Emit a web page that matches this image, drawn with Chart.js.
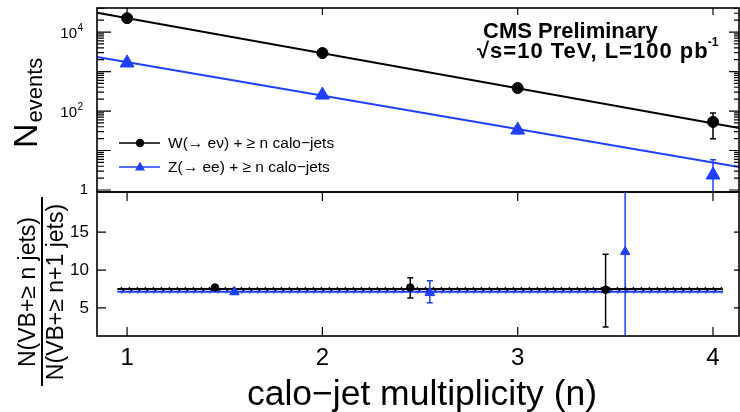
<!DOCTYPE html>
<html><head><meta charset="utf-8">
<script src="https://cdn.jsdelivr.net/npm/chart.js@4/dist/chart.umd.min.js"></script>
<style>html,body{margin:0;padding:0;background:#fff;}#wrap{position:relative;width:740px;height:412px;}canvas{position:absolute;left:0;top:0;}</style>
</head><body><div id="wrap"><canvas id="top" width="740" height="412"></canvas><canvas id="bot" width="740" height="412"></canvas></div>
<script>
// ---------- data ----------
const nJets = [1, 2, 3, 4];
const wEvents = [22500, 2950, 383, 53];
const wErrUp = [150, 55, 20, 36];
const wErrDown = [150, 55, 20, 33];
const zEvents = [1650, 254, 33, 2.4];
const zErrUp = [40, 16, 6, 3.4];
const zErrDown = [40, 16, 6, 2.4];
const fitRange = [0.846, 4.133];
const wFit = [30900, 37];
const zFit = [2340, 3.8];
const wRatioX = [1.45, 2.45, 3.45];
const wRatio = [7.7, 7.7, 7.4];
const wRatioErrUp = [0.25, 1.3, 4.7];
const wRatioErrDown = [0.25, 1.4, 4.9];
const zRatioX = [1.55, 2.55, 3.55];
const zRatio = [7.1, 7.0, 12.4];
const zRatioErrUp = [0.3, 1.6, 20];
const zRatioErrDown = [0.3, 1.3, 20];
const ratioFitRange = [0.95, 4.05];
const wRatioFit = [7.5, 7.5];
const wRatioFitErr = [0.3, 0.3];
const zRatioFit = [7.15, 7.15];
const zRatioFitErr = [0.25, 0.25];
const xTicks = [1, 2, 3, 4];
const topYTicks = [1, 100, 10000];
const topYTickExp = ['', '2', '4'];
const botYTicks = [5, 10, 15];
const legendLabels = ['W(\u2192 e\u03bd) + \u2265 n calo\u2212jets', 'Z(\u2192 ee) + \u2265 n calo\u2212jets'];
const titleLine1 = 'CMS Preliminary';
const titleLine2 = '\u221as=10 TeV, L=100 pb';
const titleLine2Sup = '-1';
const xTitle = 'calo\u2212jet multiplicity (n)';
const yTitleTop = ['N', 'events'];
const yTitleBot = ['N(VB+\u2265 n jets)', 'N(VB+\u2265 n+1 jets)'];

// ---------- style ----------
const BLUE = '#1f3fff';
const FONT = "'Liberation Sans', Arial, Helvetica, sans-serif";
Chart.defaults.font.family = FONT;
Chart.defaults.color = '#000';

function drawErrors(chart, di, vals, up, down, color, isLog) {
  const meta = chart.getDatasetMeta(di), ys = chart.scales.y, ca = chart.chartArea, ctx = chart.ctx;
  ctx.save();
  ctx.beginPath(); ctx.rect(ca.left, ca.top, ca.right - ca.left, ca.bottom - ca.top); ctx.clip();
  ctx.strokeStyle = color; ctx.lineWidth = 1.5;
  meta.data.forEach((pt, i) => {
    const hi = vals[i] + up[i], lo = vals[i] - down[i];
    const yHi = ys.getPixelForValue(hi);
    const yLo = (isLog && lo <= 0) ? ca.bottom + 10 : ys.getPixelForValue(lo);
    const x = pt.x;
    ctx.beginPath();
    ctx.moveTo(x, yHi); ctx.lineTo(x, yLo);
    ctx.moveTo(x - 3, yHi); ctx.lineTo(x + 3, yHi);
    ctx.moveTo(x - 3, yLo); ctx.lineTo(x + 3, yLo);
    ctx.stroke();
  });
  ctx.restore();
}
function frame(chart) {
  const ca = chart.chartArea, ctx = chart.ctx;
  ctx.save(); ctx.strokeStyle = '#000'; ctx.lineWidth = 1.6;
  ctx.strokeRect(ca.left, ca.top, ca.right - ca.left, ca.bottom - ca.top);
  ctx.restore();
}
function tick(ctx, x1, y1, x2, y2) { ctx.moveTo(x1, y1); ctx.lineTo(x2, y2); }

const topPlugin = {
  id: 'topDeco',
  beforeDatasetsDraw(chart) {
    drawErrors(chart, 2, wEvents, wErrUp, wErrDown, '#000', true);
    drawErrors(chart, 3, zEvents, zErrUp, zErrDown, BLUE, true);
  },
  afterDraw(chart) {
    const ctx = chart.ctx, ca = chart.chartArea, xs = chart.scales.x, ys = chart.scales.y;
    frame(chart);
    ctx.save(); ctx.strokeStyle = '#000'; ctx.lineWidth = 1.2; ctx.beginPath();
    for (let d = -1; d <= 5; d++) {
      for (let k = 1; k <= 9; k++) {
        const v = k * Math.pow(10, d);
        if (v < ys.min || v > ys.max) continue;
        const y = ys.getPixelForValue(v);
        const major = k === 1;
        tick(ctx, ca.left, y, ca.left + (major ? 14 : 7), y);
        tick(ctx, ca.right, y, ca.right - (major ? 10 : 5), y);
      }
    }
    xTicks.forEach(v => { const x = xs.getPixelForValue(v); tick(ctx, x, ca.top, x, ca.top + 7); });
    ctx.stroke(); ctx.restore();
    // y tick labels
    ctx.save(); ctx.fillStyle = '#000'; ctx.textBaseline = 'middle';
    topYTicks.forEach((v, i) => {
      const y = ys.getPixelForValue(v);
      if (!topYTickExp[i]) {
        ctx.font = '15px ' + FONT; ctx.textAlign = 'right'; ctx.fillText('1', 88, y);
      } else {
        ctx.font = '15px ' + FONT; ctx.textAlign = 'right'; ctx.fillText('10', 77, y + 2);
        ctx.font = '10px ' + FONT; ctx.textAlign = 'left'; ctx.fillText(topYTickExp[i], 77.5, y - 4);
      }
    });
    ctx.restore();
    // legend
    ctx.save();
    const rows = [143, 167];
    ctx.lineWidth = 1.5;
    [['#000', 'circle'], [BLUE, 'triangle']].forEach((s, i) => {
      const y = rows[i];
      ctx.strokeStyle = s[0]; ctx.fillStyle = s[0];
      ctx.beginPath(); ctx.moveTo(119, y); ctx.lineTo(160, y); ctx.stroke();
      ctx.beginPath();
      if (s[1] === 'circle') { ctx.arc(140, y, 4.2, 0, Math.PI * 2); }
      else { ctx.moveTo(140, y - 5.5); ctx.lineTo(145, y + 3.5); ctx.lineTo(135, y + 3.5); ctx.closePath(); }
      ctx.fill();
      ctx.fillStyle = '#000'; ctx.font = '15.5px ' + FONT; ctx.textAlign = 'left'; ctx.textBaseline = 'middle';
      ctx.fillText(legendLabels[i], 168, y + 1);
    });
    ctx.restore();
    // title
    ctx.save(); ctx.fillStyle = '#000'; ctx.textAlign = 'left'; ctx.textBaseline = 'alphabetic';
    ctx.font = 'bold 22px ' + FONT; ctx.fillText(titleLine1, 483, 38);
    ctx.letterSpacing = '1px';
    ctx.fillText(titleLine2, 477, 58);
    const w2 = ctx.measureText(titleLine2).width;
    ctx.letterSpacing = '0px';
    ctx.font = 'bold 12px ' + FONT; ctx.fillText(titleLine2Sup, 477 + w2 - 1, 46);
    ctx.restore();
    // y title
    ctx.save(); ctx.fillStyle = '#000'; ctx.translate(37, 148); ctx.rotate(-Math.PI / 2);
    ctx.textAlign = 'left'; ctx.textBaseline = 'alphabetic';
    ctx.font = '34px ' + FONT; ctx.fillText(yTitleTop[0], 0, 0);
    const nw = ctx.measureText(yTitleTop[0]).width;
    ctx.font = '22px ' + FONT; ctx.fillText(yTitleTop[1], nw + 1, 5);
    ctx.restore();
  }
};

function hatch(color) {
  const c = document.createElement('canvas'); c.width = 8; c.height = 6;
  const g = c.getContext('2d'); g.strokeStyle = color; g.lineWidth = 1.2;
  g.beginPath(); g.moveTo(1, 6); g.lineTo(5, 0); g.stroke();
  return g.createPattern(c, 'repeat');
}

const topChart = new Chart(document.getElementById('top'), {
  type: 'scatter',
  data: { datasets: [
    { label: 'W fit', type: 'line', data: fitRange.map((x, i) => ({ x, y: wFit[i] })), borderColor: '#000', borderWidth: 2, pointRadius: 0, order: 5 },
    { label: 'Z fit', type: 'line', data: fitRange.map((x, i) => ({ x, y: zFit[i] })), borderColor: BLUE, borderWidth: 2, pointRadius: 0, order: 6 },
    { label: 'W', data: nJets.map((x, i) => ({ x, y: wEvents[i] })), pointStyle: 'circle', pointRadius: 5.5, borderWidth: 1, backgroundColor: '#000', borderColor: '#000', order: 1 },
    { label: 'Z', data: nJets.map((x, i) => ({ x, y: zEvents[i] })), pointStyle: 'triangle', pointRadius: 8, borderWidth: 1, backgroundColor: BLUE, borderColor: BLUE, order: 2 }
  ] },
  options: {
    responsive: false, animation: false, devicePixelRatio: 1,
    layout: { autoPadding: false, padding: { left: 0, right: 1, top: 8, bottom: 220 } },
    plugins: { legend: { display: false }, tooltip: { enabled: false } },
    scales: {
      x: { type: 'linear', min: 0.846, max: 4.133, display: false },
      y: { type: 'logarithmic', min: 0.89, max: 40700, grid: { display: false, drawTicks: false }, border: { display: false },
           ticks: { display: false }, afterFit: s => { s.width = 97; } }
    }
  },
  plugins: [topPlugin]
});

const botPlugin = {
  id: 'botDeco',
  beforeDatasetsDraw(chart) {
    drawErrors(chart, 4, wRatio, wRatioErrUp, wRatioErrDown, '#000', false);
    drawErrors(chart, 5, zRatio, zRatioErrUp, zRatioErrDown, BLUE, false);
  },
  afterDraw(chart) {
    const ctx = chart.ctx, ca = chart.chartArea, xs = chart.scales.x, ys = chart.scales.y;
    frame(chart);
    ctx.save(); ctx.strokeStyle = '#000'; ctx.lineWidth = 1.2; ctx.beginPath();
    xTicks.forEach(v => { const x = xs.getPixelForValue(v); tick(ctx, x, ca.top, x, ca.top + 9); tick(ctx, x, ca.bottom, x, ca.bottom - 9); });
    botYTicks.forEach(v => { const y = ys.getPixelForValue(v); tick(ctx, ca.left, y, ca.left + 9, y); tick(ctx, ca.right, y, ca.right - 5, y); });
    ctx.stroke(); ctx.restore();
    // x title
    ctx.save(); ctx.fillStyle = '#000'; ctx.font = '35.5px ' + FONT; ctx.textAlign = 'center'; ctx.textBaseline = 'alphabetic';
    ctx.fillText(xTitle, 422, 405);
    ctx.restore();
    // fraction y-title
    ctx.save(); ctx.fillStyle = '#000'; ctx.font = '23px ' + FONT; ctx.textAlign = 'center'; ctx.textBaseline = 'alphabetic';
    ctx.save(); ctx.translate(35, 292); ctx.rotate(-Math.PI / 2); ctx.fillText(yTitleBot[0], 0, 0); ctx.restore();
    ctx.save(); ctx.translate(63, 292); ctx.rotate(-Math.PI / 2); ctx.fillText(yTitleBot[1], 0, 0); ctx.restore();
    ctx.strokeStyle = '#000'; ctx.lineWidth = 2; ctx.beginPath(); ctx.moveTo(42, 197); ctx.lineTo(42, 386); ctx.stroke();
    ctx.restore();
  }
};

const bandData = (vals, errs, sign) => ratioFitRange.map((x, i) => ({ x, y: vals[i] + sign * errs[i] }));

const botChart = new Chart(document.getElementById('bot'), {
  type: 'scatter',
  data: { datasets: [
    { label: 'Z band lo', type: 'line', data: bandData(zRatioFit, zRatioFitErr, -1), borderWidth: 0, pointRadius: 0, fill: false, order: 12 },
    { label: 'Z band hi', type: 'line', data: bandData(zRatioFit, zRatioFitErr, 1), borderWidth: 0, pointRadius: 0, fill: '-1', backgroundColor: hatch(BLUE), order: 12 },
    { label: 'W band lo', type: 'line', data: bandData(wRatioFit, wRatioFitErr, -1), borderWidth: 0, pointRadius: 0, fill: false, order: 10 },
    { label: 'W band hi', type: 'line', data: bandData(wRatioFit, wRatioFitErr, 1), borderWidth: 0, pointRadius: 0, fill: '-1', backgroundColor: hatch('#000'), order: 10 },
    { label: 'W ratio', data: wRatioX.map((x, i) => ({ x, y: wRatio[i] })), pointStyle: 'circle', pointRadius: 3.8, borderWidth: 1, backgroundColor: '#000', borderColor: '#000', order: 1 },
    { label: 'Z ratio', data: zRatioX.map((x, i) => ({ x, y: zRatio[i] })), pointStyle: 'triangle', pointRadius: 5.5, borderWidth: 1, backgroundColor: BLUE, borderColor: BLUE, order: 2 },
    { label: 'Z fit', type: 'line', data: ratioFitRange.map((x, i) => ({ x, y: zRatioFit[i] })), borderColor: BLUE, borderWidth: 2, pointRadius: 0, order: 11 },
    { label: 'W fit', type: 'line', data: ratioFitRange.map((x, i) => ({ x, y: wRatioFit[i] })), borderColor: '#000', borderWidth: 2, pointRadius: 0, order: 9 }
  ] },
  options: {
    responsive: false, animation: false, devicePixelRatio: 1,
    layout: { autoPadding: false, padding: { left: 0, right: 1, top: 192, bottom: 0 } },
    plugins: { legend: { display: false }, tooltip: { enabled: false } },
    scales: {
      x: { type: 'linear', min: 0.846, max: 4.133, grid: { display: false, drawTicks: false }, border: { display: false },
           afterBuildTicks: s => { s.ticks = xTicks.map(v => ({ value: v })); },
           ticks: { font: { size: 24 }, padding: 8, maxRotation: 0, callback: v => String(v) },
           afterFit: s => { s.height = 76; } },
      y: { type: 'linear', min: 1.3, max: 20.3, grid: { display: false, drawTicks: false }, border: { display: false },
           afterBuildTicks: s => { s.ticks = botYTicks.map(v => ({ value: v })); },
           ticks: { font: { size: 17 }, padding: 8, callback: v => String(v) },
           afterFit: s => { s.width = 97; } }
    }
  },
  plugins: [botPlugin]
});
</script></body></html>
